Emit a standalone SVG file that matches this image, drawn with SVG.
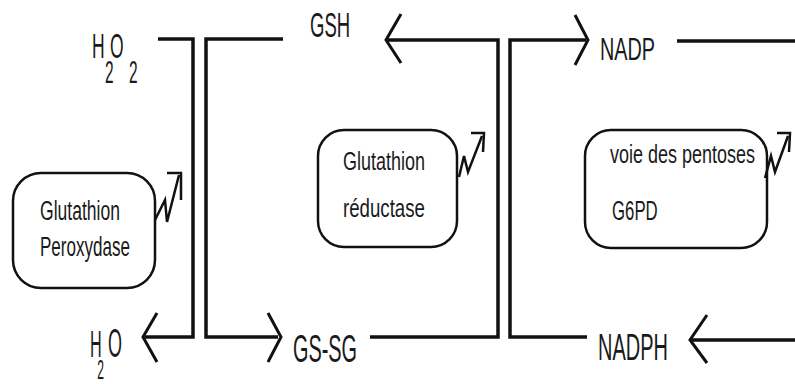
<svg xmlns="http://www.w3.org/2000/svg" width="795" height="384" viewBox="0 0 795 384">
<style>
text{font-family:"Liberation Sans",Arial,sans-serif;fill:#1a1a1a;}
.ln{fill:none;stroke:#111;stroke-width:3.5;stroke-linejoin:miter;}
.ah{fill:none;stroke:#111;stroke-width:3;stroke-linejoin:miter;}
.box{fill:#fff;stroke:#111;stroke-width:2.5;}
.up{fill:none;stroke:#111;stroke-width:2.5;stroke-linejoin:miter;}
</style>
<rect width="795" height="384" fill="#fff"/>
<g id="connectors">
<polyline class="ln" points="158,39 193,39 193,337 145,337"/>
<polyline class="ah" points="157,313 143,337 157,362"/>
<polyline class="ln" points="283,39 206,39 206,337 278,337"/>
<polyline class="ah" points="268,313 281,337 268,362"/>
<polyline class="ln" points="370,337 498,337 498,40 388,40"/>
<polyline class="ah" points="401,14 386,40 401,63"/>
<polyline class="ln" points="587,337 510,337 510,40 586,40"/>
<polyline class="ah" points="575,15 588,40 575,65"/>
<line class="ln" x1="677" y1="41" x2="795" y2="41"/>
<line class="ln" x1="795" y1="340" x2="692" y2="340"/>
<polyline class="ah" points="707,315 690,340 707,363"/>
</g>
<g id="h2o2">
<text transform="translate(92,0) scale(0.5,1)" x="0 26 36 74" y="58 83 58 83" font-size="35"><tspan>H</tspan><tspan font-size="31">2</tspan><tspan>O</tspan><tspan font-size="31">2</tspan></text>
</g>
<g id="gsh"><text transform="translate(310,37) scale(0.53,1)" font-size="35">GSH</text></g>
<g id="nadp"><text transform="translate(600,60) scale(0.62,1)" font-size="32">NADP</text></g>
<g id="h2o">
<text transform="translate(90,0) scale(0.45,1)" x="0 16 40" y="357 379 357" font-size="36"><tspan>H</tspan><tspan font-size="27">2</tspan><tspan font-size="40">O</tspan></text>
</g>
<g id="gssg"><text transform="translate(293,362) scale(0.51,1)" font-size="39">GS-SG</text></g>
<g id="nadph"><text transform="translate(598,360) scale(0.54,1)" font-size="37">NADPH</text></g>
<g id="gpx">
<rect class="box" x="13" y="173" width="142" height="115" rx="28" ry="28"/>
<text transform="translate(40,220) scale(0.627,1)" font-size="28">Glutathion</text>
<text transform="translate(40,256) scale(0.609,1)" font-size="28">Peroxydase</text>
<polyline class="up" points="155,220 165,200 167,222 179,175"/>
<polyline class="up" points="167,173 181,173 181,200"/>
</g>
<g id="gr">
<rect class="box" x="318" y="130" width="139" height="117" rx="26" ry="26"/>
<text transform="translate(343,170) scale(0.72,1)" font-size="25">Glutathion</text>
<text transform="translate(343,217) scale(0.747,1)" font-size="25">réductase</text>
<polyline class="up" points="459,177 464,156 468,172 482,136"/>
<polyline class="up" points="471,133 484,133 483,152"/>
</g>
<g id="g6pd">
<rect class="box" x="585" y="130" width="182" height="118" rx="26" ry="26"/>
<text transform="translate(610,163) scale(0.72,1)" font-size="25">voie des pentoses</text>
<text transform="translate(612,220) scale(0.6,1)" font-size="28">G6PD</text>
<polyline class="up" points="765,178 771,156 775,172 788,136"/>
<polyline class="up" points="777,133 790,133 789,152"/>
</g>
</svg>
